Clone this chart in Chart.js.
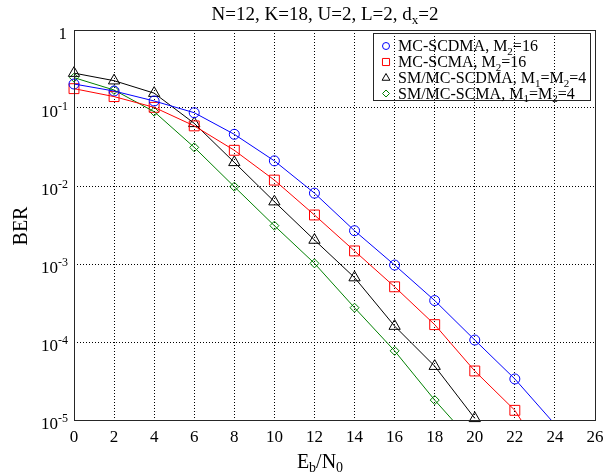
<!DOCTYPE html>
<html><head><meta charset="utf-8">
<script src="https://cdn.jsdelivr.net/npm/chart.js@4.4.0/dist/chart.umd.min.js"></script>
<style>html,body{margin:0;padding:0;background:#fff}#wrap{width:616px;height:474px}</style>
</head><body><div id="wrap"><canvas id="c" width="616" height="474"></canvas></div>
<script>
// ---- data ----
const ebn0 = [0, 2, 4, 6, 8, 10, 12, 14, 16, 18, 20, 22, 24];
const berMcScdma   = [0.203, 0.165, 0.123, 0.087, 0.046, 0.021, 0.0081, 0.00267, 0.00097, 0.00034, 0.000106, 0.0000336, 0.0000088];
const berMcScma    = [0.177, 0.140, 0.102, 0.059, 0.0287, 0.0119, 0.00425, 0.00147, 0.00051, 0.000167, 0.0000425, 0.0000133, 0.0000021];
const berSmMcScdma = [0.280, 0.224, 0.155, 0.0636, 0.0201, 0.0063, 0.00203, 0.00067, 0.00016, 0.000049, 0.0000105];
const berSmMcScma  = [0.245, 0.170, 0.0897, 0.0313, 0.0098, 0.0031, 0.00102, 0.000275, 0.000077, 0.000018, 0.0000048];
const xTicks = [0, 2, 4, 6, 8, 10, 12, 14, 16, 18, 20, 22, 24, 26];
const yTicks = [1e-5, 1e-4, 1e-3, 1e-2, 1e-1, 1];
const yTickExps = [-5, -4, -3, -2, -1, 0];
const seriesNames = [
  [['MC-SCDMA, M',0],['2',-1],['=16',0]],
  [['MC-SCMA, M',0],['2',-1],['=16',0]],
  [['SM/MC-SCDMA, M',0],['1',-1],['=M',0],['2',-1],['=4',0]],
  [['SM/MC-SCMA, M',0],['1',-1],['=M',0],['2',-1],['=4',0]]
];
const titleParts = [['N=12, K=18, U=2, L=2, d',0],['x',-1],['=2',0]];
const xTitleParts = [['E',0],['b',-1],['/N',0],['0',-1]];
const yTitle = 'BER';

const colors = ['#0000ff', '#ff0000', '#000000', '#008000'];
const styles = ['circle', 'rect', 'triangle', 'rectRot'];
const radii = [5, 7, 6.5, 4.5];
const legendRadii = [3.5, 5, 4.5, 3.5];
const allSeries = [berMcScdma, berMcScma, berSmMcScdma, berSmMcScma];
const YMIN = 1e-5, YMAX = 1;
const SERIF = "'Liberation Serif','Times New Roman',serif";

const toPts = arr => arr.map((v, i) => ({x: ebn0[i], y: v}));
const datasets = [];
allSeries.forEach((s, k) => {
  datasets.push({
    data: toPts(s), borderColor: colors[k], borderWidth: 1, pointRadius: 0,
    pointHoverRadius: 0, fill: false, tension: 0
  });
});
allSeries.forEach((s, k) => {
  datasets.push({
    data: toPts(s).filter(p => p.y >= YMIN * 0.95), showLine: false, clip: false,
    pointStyle: styles[k], pointRadius: radii[k], pointHoverRadius: radii[k],
    borderColor: colors[k], backgroundColor: 'rgba(0,0,0,0)', pointBorderWidth: 1
  });
});

function richWidth(ctx, parts, size) {
  let w = 0;
  parts.forEach(([t, s]) => {
    ctx.font = (s ? Math.round(size * 0.7) : size) + 'px ' + SERIF;
    w += ctx.measureText(t).width;
  });
  return w;
}
function drawRich(ctx, parts, x, y, size, align) {
  const w = richWidth(ctx, parts, size);
  let cx = align === 'center' ? x - w / 2 : align === 'right' ? x - w : x;
  ctx.textAlign = 'left'; ctx.textBaseline = 'alphabetic';
  parts.forEach(([t, s]) => {
    const fs = s ? Math.round(size * 0.7) : size;
    ctx.font = fs + 'px ' + SERIF;
    const dy = s < 0 ? size * 0.22 : s > 0 ? -size * 0.42 : 0;
    ctx.fillText(t, cx, y + dy);
    cx += ctx.measureText(t).width;
  });
}

const deco = {
  id: 'deco',
  afterDraw(chart) {
    const ctx = chart.ctx, a = chart.chartArea;
    const xs = chart.scales.x, ys = chart.scales.y;
    ctx.save();
    ctx.setLineDash([]);
    ctx.strokeStyle = '#262626'; ctx.lineWidth = 1;
    ctx.strokeRect(Math.round(a.left) + 0.5, Math.round(a.top) + 0.5,
                   Math.round(a.right - a.left), Math.round(a.bottom - a.top));
    ctx.fillStyle = '#000';
    // x tick labels
    ctx.font = '17px ' + SERIF; ctx.textAlign = 'center'; ctx.textBaseline = 'alphabetic';
    xTicks.forEach(v => ctx.fillText(String(v), xs.getPixelForValue(v), 442));
    // y tick labels
    yTicks.forEach((v, i) => {
      const py = ys.getPixelForValue(v);
      const e = yTickExps[i];
      if (e === 0) drawRich(ctx, [['1', 0]], 67, py + 9, 17, 'right');
      else drawRich(ctx, [['10', 0], [String(e), 1]], 68, py + 9, 17, 'right');
    });
    // title
    ctx.fillStyle = '#000';
    drawRich(ctx, titleParts, 325, 20, 19, 'center');
    // x title
    drawRich(ctx, xTitleParts, 320, 468, 20, 'center');
    // y title
    ctx.save();
    ctx.translate(27, 226); ctx.rotate(-Math.PI / 2);
    ctx.font = '20px ' + SERIF; ctx.textAlign = 'center'; ctx.textBaseline = 'alphabetic';
    ctx.fillText(yTitle, 0, 0);
    ctx.restore();
    // legend
    const lx = 373, ly = 33, lw = 217, lh = 67;
    ctx.strokeStyle = '#262626'; ctx.lineWidth = 1;
    ctx.strokeRect(lx + 0.5, ly + 0.5, lw, lh);
    const rowY = [46, 62, 78, 93.5];
    seriesNames.forEach((parts, k) => {
      ctx.strokeStyle = colors[k]; ctx.fillStyle = 'rgba(0,0,0,0)'; ctx.lineWidth = 1;
      Chart.helpers.drawPoint(ctx, {pointStyle: styles[k], radius: legendRadii[k], rotation: 0, borderWidth: 1}, 386, rowY[k]);
      ctx.fillStyle = '#000';
      drawRich(ctx, parts, 398, rowY[k] + 5, 16, 'left');
    });
    ctx.restore();
  }
};

new Chart(document.getElementById('c'), {
  type: 'line',
  data: { datasets },
  plugins: [deco],
  options: {
    responsive: false, animation: false, devicePixelRatio: 1,
    layout: { padding: { left: 74, right: 21, top: 30, bottom: 54 } },
    plugins: { legend: { display: false }, tooltip: { enabled: false }, title: { display: false } },
    scales: {
      x: {
        type: 'linear', min: 0, max: 26,
        ticks: { display: false, stepSize: 2 },
        afterBuildTicks: s => { s.ticks = xTicks.map(v => ({value: v})); },
        grid: { color: '#000', lineWidth: 1, drawTicks: false },
        border: { display: false, dash: [1, 2] }
      },
      y: {
        type: 'logarithmic', min: YMIN, max: YMAX,
        ticks: { display: false },
        afterBuildTicks: s => { s.ticks = yTicks.map(v => ({value: v})); },
        grid: { color: '#000', lineWidth: 1, drawTicks: false },
        border: { display: false, dash: [1, 2] }
      }
    }
  }
});
</script>
</body></html>
